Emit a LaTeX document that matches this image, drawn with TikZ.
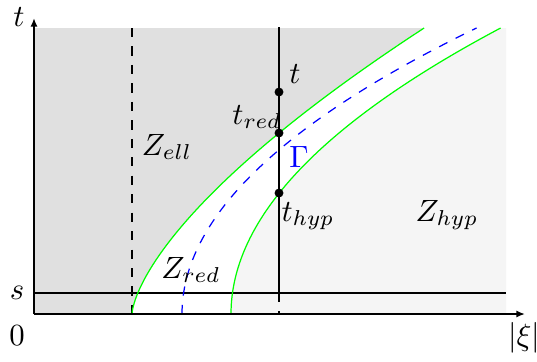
\documentclass[tikz,border=0pt]{standalone}
\usetikzlibrary{arrows.meta}
\definecolor{darkzone}{gray}{0.88}
\definecolor{lightzone}{gray}{0.96}
\definecolor{curvegreen}{rgb}{0,1,0}
\begin{document}
\begin{tikzpicture}[x=0.325pt,y=-0.325pt,
  axis/.style={line width=0.6pt,-{Latex[length=2.8pt,width=2.3pt]}},
  plain/.style={line width=0.4pt},
  dot/.style={circle,fill=black,inner sep=0pt,minimum size=2.9pt},
  lab/.style={inner sep=0pt},
  greencurve/.style={curvegreen,line width=0.4pt},
  gammacurve/.style={blue,dashed,line width=0.4pt}]
\path[use as bounding box,fill=white] (0,0) rectangle (537,361);
% zones
\fill[darkzone] (34,314) -- plot[domain=0:286,samples=80,variable=\h] ({132+0.0604*\h*sqrt(\h)},{314-\h}) -- (34,28) -- cycle;
\fill[lightzone] (231,314) -- plot[domain=0:286,samples=80,variable=\h] ({231+(0.0033*\h)*\h},{314-\h}) -- (506,28) -- (506,314) -- cycle;
% coordinates
\coordinate (O) at (34,314);
\coordinate (ytop) at (34,18);
\coordinate (xend) at (525,314);
\coordinate (sL) at (34,293);
\coordinate (sR) at (506,293);
\coordinate (d1t) at (132,28);
\coordinate (d1b) at (132,314);
\coordinate (v2t) at (279,27);
\coordinate (v2s) at (279,293);
\coordinate (v2b) at (279,314);
% lines
\draw[plain] (sL) -- (sR);
\draw[plain,dashed] (d1t) -- (d1b);
\draw[plain] (v2t) -- (v2s);
\draw[plain,dashed] (v2s) -- (v2b);
% curves
\draw[greencurve] plot[domain=0:286,samples=80,variable=\h] ({132+0.0604*\h*sqrt(\h)},{314-\h});
\draw[greencurve] plot[domain=0:286,samples=80,variable=\h] ({231+(0.0033*\h)*\h},{314-\h});
\draw[gammacurve] plot[domain=0:286,samples=80,variable=\h] ({182+(0.0036*\h)*\h},{314-\h});
% axes
\draw[axis] (O) -- (ytop);
\draw[axis] (O) -- (xend);
% points
\node[dot] (pt) at (279,92) {};
\node[dot] (ptred) at (279,133) {};
\node[dot] (pthyp) at (279,193) {};
% labels
\node[lab] (lt) at (19,17) {$t$};
\node[lab] (ls) at (17,293) {$s$};
\node[lab] (l0) at (17,336) {$0$};
\node[lab] (lxi) at (524,338) {$|\xi|$};
\node[lab] (lpt) at (295,74) {$t$};
\node[lab] (lred) at (257,117) {$t_{red}$};
\node[lab,text=blue] (lgamma) at (299,157) {$\Gamma$};
\node[lab] (lhyp) at (308,216) {$t_{hyp}$};
\node[lab] (zell) at (167,147) {$Z_{ell}$};
\node[lab] (zred) at (191,270) {$Z_{red}$};
\node[lab] (zhyp) at (447,215) {$Z_{hyp}$};
\end{tikzpicture}
\end{document}
